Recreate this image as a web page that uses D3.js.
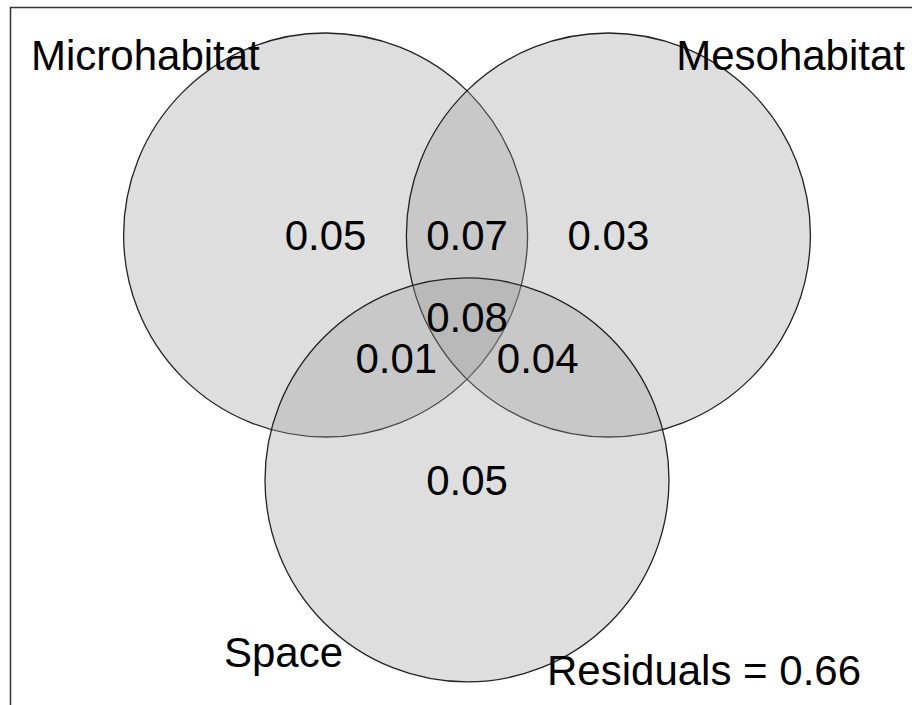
<!DOCTYPE html>
<html>
<head>
<meta charset="utf-8">
<script src="https://cdn.jsdelivr.net/npm/d3@7"></script>
<style>
  html, body { margin: 0; padding: 0; background: #fff; }
  svg { display: block; }
</style>
</head>
<body>
<div id="chart"></div>
<script>
// variation partitioning: three explanatory sets
const setNames = ["Microhabitat", "Mesohabitat", "Space"];
// which sets each fraction belongs to
const regions = [[0], [1], [2], [0, 1], [0, 2], [1, 2], [0, 1, 2]];
const fractions = [0.05, 0.03, 0.05, 0.07, 0.01, 0.04, 0.08];
const residual = 0.66;

const width = 912;
const height = 705;

// circle centres on an equilateral triangle, in radius units
const side = 1.4;
const centers = [
  [-side / 2, 0],
  [side / 2, 0],
  [0, -side * Math.sqrt(3) / 2]
];

const x = d3.scaleLinear().domain([0, 1]).range([467, 669]);
const y = d3.scaleLinear().domain([0, 1]).range([235, 33]);
const r = x(1) - x(0);

const svg = d3.select("#chart").append("svg")
  .attr("width", width)
  .attr("height", height)
  .attr("style", "font-family: 'Liberation Sans', Arial, sans-serif;");

// plot frame (runs off the right and bottom of the picture)
svg.append("rect")
  .attr("x", 10.5)
  .attr("y", 7.5)
  .attr("width", width + 20)
  .attr("height", height + 20)
  .attr("fill", "none")
  .attr("stroke", "#333")
  .attr("stroke-width", 1.5);

svg.append("g")
  .selectAll("circle")
  .data(centers)
  .join("circle")
  .attr("cx", d => x(d[0]))
  .attr("cy", d => y(d[1]))
  .attr("r", r)
  .attr("fill", "#9a9a9a")
  .attr("fill-opacity", 0.33)
  .attr("stroke", "#222")
  .attr("stroke-width", 1.3);

// each fraction sits at the mean of the centres of its sets
svg.append("g")
  .selectAll("text")
  .data(fractions)
  .join("text")
  .attr("x", (d, i) => x(d3.mean(regions[i], k => centers[k][0])))
  .attr("y", (d, i) => y(d3.mean(regions[i], k => centers[k][1])))
  .attr("dy", "0.36em")
  .attr("text-anchor", "middle")
  .attr("font-size", "42px")
  .attr("fill", "#000")
  .text(d => d3.format(".2f")(d));

const labels = svg.append("g")
  .attr("font-size", "42px")
  .attr("fill", "#000");

labels.append("text")
  .attr("x", 31)
  .attr("y", 70)
  .text(setNames[0]);

labels.append("text")
  .attr("x", 905)
  .attr("y", 70)
  .attr("text-anchor", "end")
  .text(setNames[1]);

labels.append("text")
  .attr("x", 224)
  .attr("y", 667)
  .text(setNames[2]);

labels.append("text")
  .attr("x", 547)
  .attr("y", 685)
  .text(`Residuals = ${d3.format(".2f")(residual)}`);
</script>
</body>
</html>
